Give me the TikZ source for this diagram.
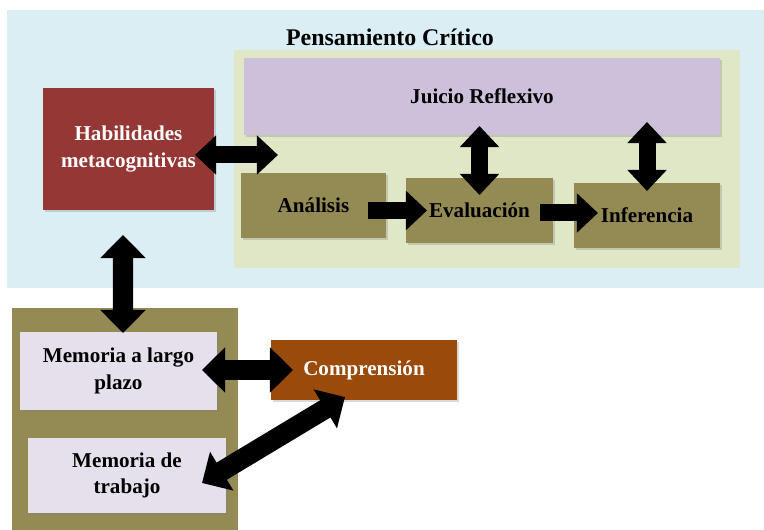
\documentclass[tikz,border=0pt]{standalone}
\usepackage{fontspec}
\setmainfont{Liberation Serif}
\usetikzlibrary{arrows.meta,calc,shadows}
\definecolor{bgblue}{HTML}{DBEEF4}
\definecolor{bggreen}{HTML}{DFE7C6}
\definecolor{jrlav}{HTML}{CCC0DA}
\definecolor{habred}{HTML}{953735}
\definecolor{stepolive}{HTML}{948A54}
\definecolor{memlav}{HTML}{E5E0EC}
\definecolor{comprust}{HTML}{9A4A0A}
\tikzstyle{region} = [rectangle,inner sep=0pt,outer sep=0pt]
\tikzstyle{box} = [rectangle,inner sep=2pt,outer sep=0pt,align=center,font=\bfseries\fontsize{15}{19}\selectfont,drop shadow={shadow xshift=1.5pt,shadow yshift=-1.5pt,opacity=.3}]
\tikzstyle{fatarrow} = [line width=0.425cm,{Triangle[length=0.525cm,width=0.95cm]}-{Triangle[length=0.525cm,width=0.95cm]}]
\tikzstyle{fatto} = [line width=0.425cm,-{Triangle[length=0.525cm,width=0.95cm]}]
\tikzstyle{bigarrow} = [line width=0.5cm,{Triangle[length=0.575cm,width=1.1cm]}-{Triangle[length=0.575cm,width=1.1cm]}]

\begin{document}
\begin{tikzpicture}[x=0.025cm,y=-0.025cm]

\useasboundingbox (0,0) rectangle (764,530);

\node[region,fill=bgblue,minimum width=18.925cm,minimum height=6.95cm] (bg) at (385.5,149) {};
\node[font=\bfseries\fontsize{17}{20}\selectfont] (title) at (390,37) {Pensamiento Crítico};
\node[region,fill=bggreen,minimum width=12.65cm,minimum height=5.45cm] (pc) at (487,159) {};
\node[region,fill=stepolive,minimum width=5.65cm,minimum height=5.65cm] (mem) at (125,421) {};

\node[box,fill=jrlav,minimum width=11.9cm,minimum height=1.925cm] (jr) at (482,96.5) {Juicio Reflexivo};
\node[box,fill=habred,text=white,minimum width=4.275cm,minimum height=3.05cm] (hab) at (128.5,149) {Habilidades\\metacognitivas};
\node[box,fill=stepolive,minimum width=3.625cm,minimum height=1.625cm] (ana) at (313.5,205.5) {Análisis};
\node[box,fill=stepolive,minimum width=3.675cm,minimum height=1.625cm] (ev) at (479.5,210.5) {Evaluación};
\node[box,fill=stepolive,minimum width=3.65cm,minimum height=1.625cm] (inf) at (647,215.5) {Inferencia};

\node[box,fill=memlav,minimum width=4.925cm,minimum height=1.95cm] (mlp) at (118.5,371) {Memoria a largo\\plazo};
\node[box,fill=memlav,minimum width=4.95cm,minimum height=1.875cm] (mt) at (127,475.5) {Memoria de\\trabajo};
\node[box,fill=comprust,text=white,minimum width=4.65cm,minimum height=1.5cm] (comp) at (364,370) {Comprensión};

\draw[fatarrow] ($(hab.east)+(-19,6)$) -- ($(pc.west)+(44,-4)$);
\draw[fatarrow] ($(ev.north |- jr.south)+(0,-9)$) -- ($(ev.north)+(0,17)$);
\draw[fatarrow] ($(inf.north |- jr.south)+(0,-13)$) -- ($(inf.north)+(0,8)$);
\draw[fatto] ($(ana.east)+(-18,5)$) -- ($(ev.west |- ana.east)+(21,5)$);
\draw[fatto] ($(ev.east)+(-13,2.5)$) -- ($(inf.west |- ev.east)+(24,2.5)$);

\draw[bigarrow] ($(hab.south)+(-5.5,25)$) -- ($(mlp.north)+(4.5,1)$);
\draw[bigarrow] ($(mlp.east)+(-15,-1)$) -- ($(comp.west)+(22,0)$);
\draw[bigarrow] ($(comp.south)+(-19,-3)$) -- ($(mt.east)+(-24,7.5)$);

\end{tikzpicture}
\end{document}
